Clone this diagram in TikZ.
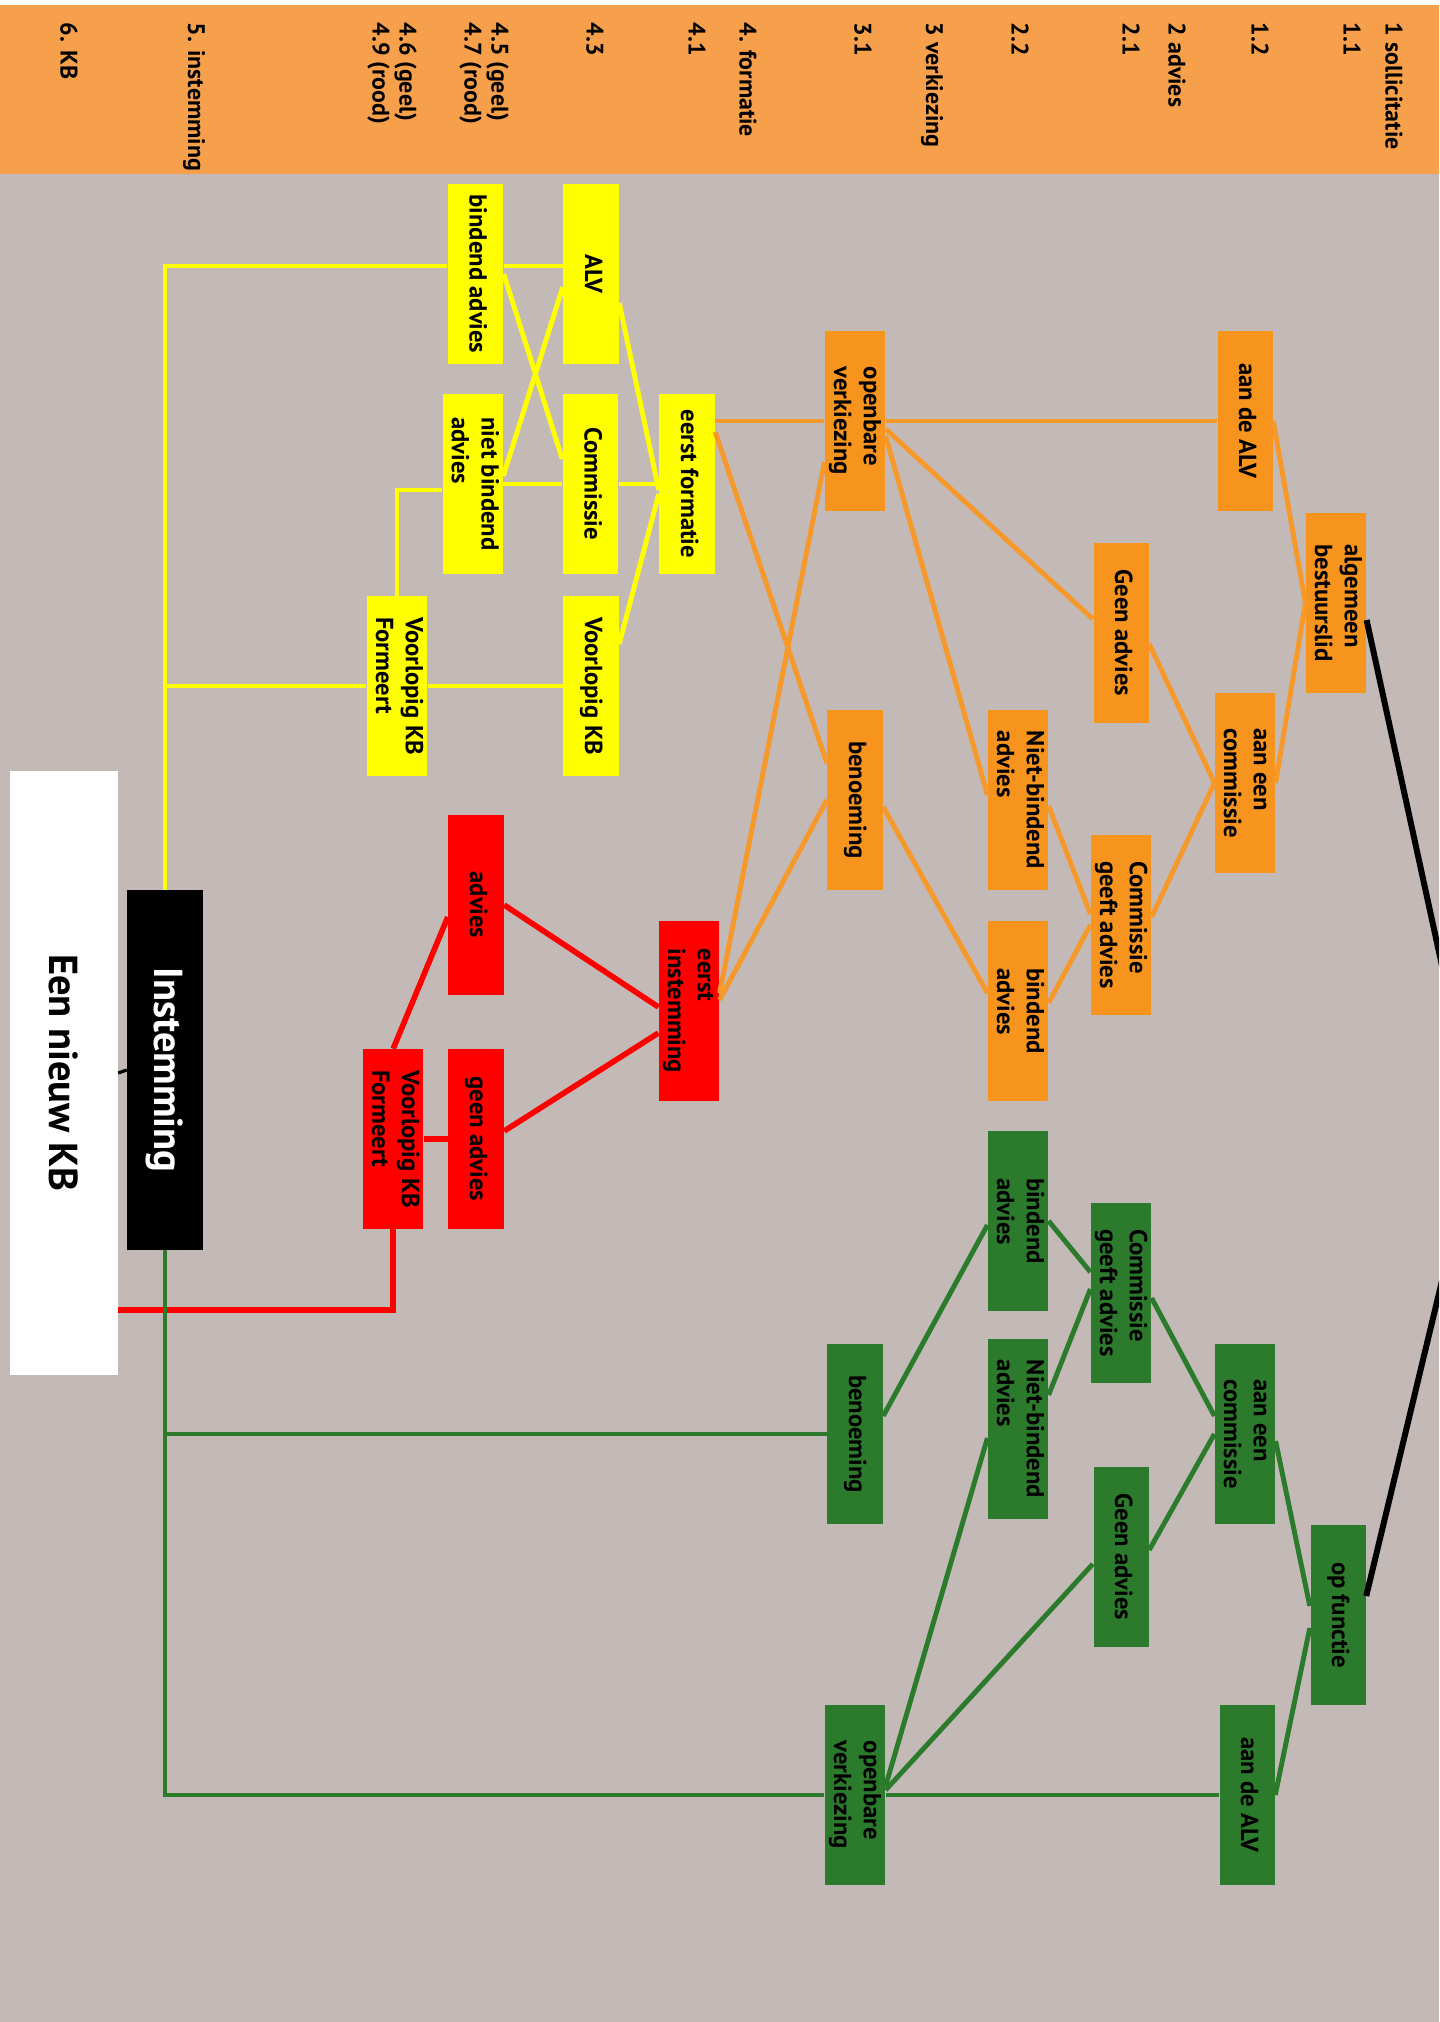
\documentclass[tikz,border=0pt]{standalone}
\usepackage{fontspec}
\setmainfont{PT Sans}
\usepackage{graphicx}
\usetikzlibrary{positioning}

\definecolor{bggrey}{RGB}{195,186,184}
\definecolor{hdrorange}{RGB}{247,160,76}
\definecolor{boxorange}{RGB}{247,148,29}
\definecolor{lineorange}{RGB}{246,152,42}
\definecolor{boxgreen}{RGB}{44,123,44}
\definecolor{boxyellow}{RGB}{255,255,0}
\definecolor{boxred}{RGB}{255,0,0}

\newcommand{\vlbl}[1]{\rotatebox{-90}{\begin{tabular}{@{}l@{}}#1\end{tabular}}}

\tikzset{
  box/.style={rectangle, inner sep=0pt, minimum width=0.55cm, minimum height=1.79cm,
    font=\fontsize{7}{8.5}\selectfont\bfseries},
  obox/.style={box, fill=boxorange},
  ybox/.style={box, fill=boxyellow},
  rbox/.style={box, fill=boxred},
  gbox/.style={box, fill=boxgreen},
  hdr/.style={rotate=-90, anchor=west, inner sep=0pt, align=left,
    font=\fontsize{6.8}{7.7}\selectfont\bfseries},
  oline/.style={draw=lineorange, line width=1.4pt},
  yline/.style={draw=boxyellow, line width=1.4pt},
  rline/.style={draw=boxred, line width=1.6pt},
  gline/.style={draw=boxgreen, line width=1.4pt},
  kline/.style={draw=black, line width=1.7pt}
}

\begin{document}
\begin{tikzpicture}[x=0.01cm, y=-0.01cm]
\useasboundingbox (0,0) rectangle (1439,2022);
\clip (0,0) rectangle (1439,2022);
\fill[bggrey] (0,0) rectangle (1439,2022);
\fill[white] (0,0) rectangle (1439,5);
\fill[hdrorange] (0,5) rectangle (1439,174);

% kopregel met de stappen
\node[hdr] (h1) at (1394,22) {1 sollicitatie};
\node[hdr] (h11) at (1352,22) {1.1};
\node[hdr] (h12) at (1260,22) {1.2};
\node[hdr] (h2) at (1177,22) {2 advies};
\node[hdr] (h21) at (1131,22) {2.1};
\node[hdr] (h22) at (1020,22) {2.2};
\node[hdr] (h3) at (932,22) {3 verkiezing};
\node[hdr] (h31) at (863,22) {3.1};
\node[hdr] (h4) at (748,22) {4. formatie};
\node[hdr] (h41) at (697,22) {4.1};
\node[hdr] (h43) at (595,22) {4.3};
\node[hdr] (h45) at (484,22) {4.5 (geel)\\4.7 (rood)};
\node[hdr] (h46) at (392,22) {4.6 (geel)\\4.9 (rood)};
\node[hdr] (h5) at (194,22) {5. instemming};
\node[hdr] (h6) at (69,22) {6. KB};

% oranje: algemeen bestuurslid
\node[obox] (oalg) at (1336,603) {\vlbl{algemeen\\bestuurslid}};
\node[obox] (oalv) at (1245,421) {\vlbl{aan de ALV}};
\node[obox] (oacom) at (1245,783) {\vlbl{aan een\\commissie}};
\node[obox] (ogeen) at (1121,633) {\vlbl{Geen advies}};
\node[obox] (ocga) at (1121,925) {\vlbl{Commissie\\geeft advies}};
\node[obox] (oniet) at (1018,800) {\vlbl{Niet-bindend\\advies}};
\node[obox] (obind) at (1018,1011) {\vlbl{bindend\\advies}};
\node[obox] (oov) at (855,421) {\vlbl{openbare\\verkiezing}};
\node[obox] (oben) at (855,800) {\vlbl{benoeming}};

% geel: formatie
\node[ybox] (yef) at (687,484) {\vlbl{eerst formatie}};
\node[ybox] (ycom) [left=0.4cm of yef] {\vlbl{Commissie}};
\node[ybox] (yniet) [left=0.59cm of ycom] {\vlbl{niet bindend\\advies}};
\node[ybox] (yalv) at (591,274) {\vlbl{ALV}};
\node[ybox] (ybind) [left=0.59cm of yalv] {\vlbl{bindend advies}};
\node[ybox] (yvkb) at (591,686) {\vlbl{Voorlopig KB}};
\node[ybox] (yform) at (397,686) {\vlbl{Voorlopig KB\\Formeert}};

% rood: instemming
\node[rbox] (rei) at (689,1011) {\vlbl{eerst\\instemming}};
\node[rbox] (radv) at (476,905) {\vlbl{advies}};
\node[rbox] (rgeen) at (476,1139) {\vlbl{geen advies}};
\node[rbox] (rform) [left=0.24cm of rgeen] {\vlbl{Voorlopig KB\\Formeert}};

% groen: op functie
\node[gbox] (gop) at (1338,1615) {\vlbl{op functie}};
\node[gbox] (gacom) at (1245,1434) {\vlbl{aan een\\commissie}};
\node[gbox] (galv) at (1247,1795) {\vlbl{aan de ALV}};
\node[gbox] (gcga) at (1121,1293) {\vlbl{Commissie\\geeft advies}};
\node[gbox] (ggeen) at (1121,1557) {\vlbl{Geen advies}};
\node[gbox] (gbind) at (1018,1221) {\vlbl{bindend\\advies}};
\node[gbox] (gniet) at (1018,1429) {\vlbl{Niet-bindend\\advies}};
\node[gbox] (gben) at (855,1434) {\vlbl{benoeming}};
\node[gbox] (gov) at (855,1795) {\vlbl{openbare\\verkiezing}};

% instemming en KB
\node[rectangle, fill=black, text=white, inner sep=0pt, minimum width=0.75cm, minimum height=3.59cm,
  font=\fontsize{11.5}{13}\selectfont\bfseries] (inst) at (165,1070) {\rotatebox{-90}{Instemming}};
\node[rectangle, fill=white, inner sep=0pt, minimum width=1.07cm, minimum height=6.04cm,
  font=\fontsize{11.5}{13}\selectfont\bfseries] (kb) at (64,1073) {\rotatebox{-90}{Een nieuw KB}};
\coordinate (vac) at (1478,1131);

% lijnen
\draw[kline] ([yshift=-1.7mm]oalg.east) -- (vac);
\draw[kline] ([yshift=1.9mm]gop.east) -- (vac);
\draw[black, line width=0.9pt] (kb.east) -- (inst.west);

\draw[oline] (oalg.west) -- (oalv.east);
\draw[oline] (oalg.west) -- (oacom.east);
\draw[oline] ([yshift=-1.1mm]ogeen.east) -- (oacom.west);
\draw[oline] ([yshift=0.8mm]ocga.east) -- (oacom.west);
\draw[oline] ([yshift=-0.6mm]oniet.east) -- ([yshift=1.1mm]ocga.west);
\draw[oline] ([yshift=0.8mm]obind.east) -- (ocga.west);
\draw[oline] (oov.west -| yef.east) -- (oov.west);
\draw[oline] (oov.east) -- (oalv.west);
\draw[oline] ([yshift=-0.8mm]oov.east) -- ([yshift=1.4mm]ogeen.west);
\draw[oline] ([yshift=-1.5mm]oov.east) -- ([yshift=0.5mm]oniet.west);
\draw[oline] ([yshift=-0.7mm]oben.east) -- ([yshift=1.8mm]obind.west);
\draw[oline] ([yshift=5.2mm]yef.east) -- ([yshift=3.7mm]oben.west);
\draw[oline] ([yshift=-4.1mm]oov.west) -- ([yshift=1.8mm]rei.east);
\draw[oline] ([yshift=1.1mm]rei.east) -- (oben.west);

\draw[yline] ([yshift=0.8mm]inst.north) |- ([yshift=0.8mm]ybind.west);
\draw[yline] ([yshift=0.8mm]ybind.east) -- ([yshift=0.8mm]yalv.west);
\draw[yline] (ybind.east) -- ([yshift=2.5mm]ycom.west);
\draw[yline] ([yshift=-1.3mm]yalv.west) -- ([yshift=0.8mm]yniet.east);
\draw[yline] (yniet.east) -- (ycom.west);
\draw[yline] (ycom.east) -- (yef.west);
\draw[yline] ([yshift=-2.9mm]yalv.east) -- ([yshift=-0.6mm]yef.west);
\draw[yline] ([yshift=4.2mm]yvkb.east) -- ([yshift=-1mm]yef.west);
\draw[yline] ([yshift=-0.6mm]yniet.west) -| (yform.north);
\draw[yline] (inst.north) |- (yform.west);
\draw[yline] (yform.east) -- (yvkb.west);

\draw[rline] (radv.east) -- ([yshift=0.4mm]rei.west);
\draw[rline] ([yshift=0.8mm]rgeen.east) -- ([yshift=-2.2mm]rei.west);
\draw[rline] (rform.north) -- ([yshift=-1.2mm]radv.west);
\draw[rline] (rform.east) -- (rgeen.west);
\draw[rline] (rform.south) |- ([yshift=-23.7mm]kb.east);

\draw[gline] (inst.south) |- (gben.west);
\draw[gline] (inst.south) |- (gov.west);
\draw[gline] (gov.east) -- (galv.west);
\draw[gline] ([yshift=0.9mm]gov.east) -- ([yshift=-0.9mm]gniet.west);
\draw[gline] ([yshift=0.5mm]gov.east) -- ([yshift=-0.7mm]ggeen.west);
\draw[gline] ([yshift=1.8mm]gben.east) -- ([yshift=-0.4mm]gbind.west);
\draw[gline] (gbind.east) -- ([yshift=2.1mm]gcga.west);
\draw[gline] ([yshift=3.4mm]gniet.east) -- ([yshift=0.4mm]gcga.west);
\draw[gline] ([yshift=-0.5mm]gcga.east) -- ([yshift=1.8mm]gacom.west);
\draw[gline] ([yshift=0.7mm]ggeen.east) -- (gacom.west);
\draw[gline] ([yshift=-0.7mm]gacom.east) -- ([yshift=0.9mm]gop.west);
\draw[gline] (galv.east) -- ([yshift=-1.3mm]gop.west);
\end{tikzpicture}
\end{document}
